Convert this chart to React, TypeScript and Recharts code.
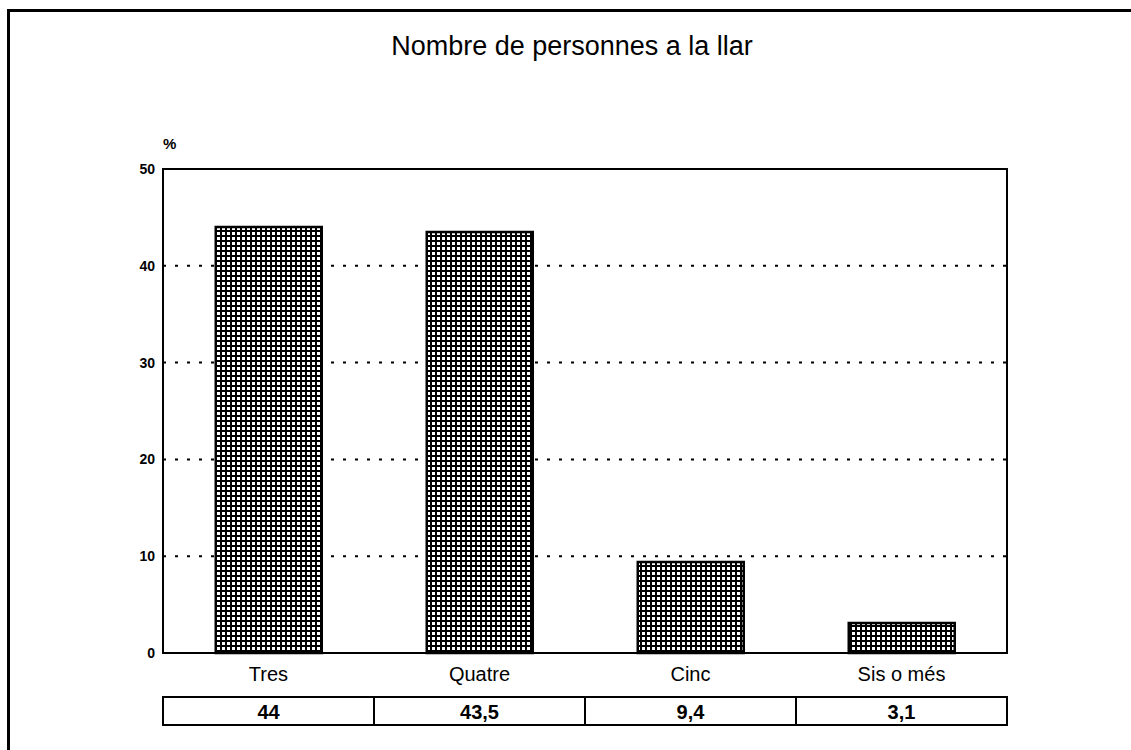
import { BarChart, Bar, XAxis, YAxis, CartesianGrid, ReferenceArea } from "recharts";

const categories = ["Tres", "Quatre", "Cinc", "Sis o més"];
const percents = [44, 43.5, 9.4, 3.1];
const valueLabels = ["44", "43,5", "9,4", "3,1"];
const yTicks = [0, 10, 20, 30, 40, 50];

const data = categories.map((c, i) => ({ name: c, value: percents[i] }));

const BAND = 211;
const FONT = "'Liberation Sans', Arial, Helvetica, sans-serif";

function CategoryTick(props: any) {
  const { x, y, payload, index } = props;
  const i = payload?.index ?? index;
  return (
    <g>
      <text x={x} y={y + 28} textAnchor="middle" fontSize={20} fontFamily={FONT} fill="#000">
        {payload.value}
      </text>
      <rect x={x - BAND / 2} y={y + 44} width={BAND} height={28} fill="#fff" stroke="#000" strokeWidth={2} />
      <text x={x} y={y + 66} textAnchor="middle" fontSize={20} fontWeight="bold" fontFamily={FONT} fill="#000">
        {valueLabels[i]}
      </text>
    </g>
  );
}

export default function App() {
  return (
    <div style={{ position: "absolute", left: 0, top: 0, width: 1131, height: 750, background: "#fff", fontFamily: FONT, overflow: "hidden" }}>
      {/* page frame: top and left edges only */}
      <div style={{ position: "absolute", left: 7, top: 9, width: 1124, height: 3, background: "#000" }} />
      <div style={{ position: "absolute", left: 7, top: 9, width: 3, height: 741, background: "#000" }} />
      <div style={{ position: "absolute", left: 0, width: 1144, top: 31, textAlign: "center", fontSize: 27, color: "#000" }}>
        Nombre de personnes a la llar
      </div>
      <div style={{ position: "absolute", left: 163, top: 135, fontSize: 15, fontWeight: "bold", color: "#000" }}>%</div>
      <div style={{ position: "absolute", left: 0, top: 0 }}>
        <BarChart
          width={1131}
          height={750}
          data={data}
          margin={{ top: 169, right: 124, bottom: 67, left: 123 }}
          barCategoryGap="25%"
        >
          <defs>
            <pattern id="hatch" width={5} height={5} patternUnits="userSpaceOnUse">
              <rect x={0} y={0} width={5} height={5} fill="#fff" />
              <rect x={0} y={0} width={5} height={2} fill="#000" />
              <rect x={0} y={0} width={2} height={5} fill="#000" />
            </pattern>
          </defs>
          <CartesianGrid vertical={false} stroke="#000" strokeWidth={2} strokeDasharray="3 9" />
          <ReferenceArea
            x1={categories[0]}
            x2={categories[categories.length - 1]}
            y1={0}
            y2={50}
            fill="none"
            fillOpacity={0}
            stroke="#000"
            strokeWidth={2}
            ifOverflow="visible"
          />
          <XAxis
            dataKey="name"
            height={30}
            axisLine={{ stroke: "#000", strokeWidth: 2 }}
            tickLine={false}
            tickSize={0}
            tickMargin={0}
            tick={<CategoryTick />}
            interval={0}
          />
          <YAxis
            domain={[0, 50]}
            ticks={yTicks}
            width={40}
            axisLine={{ stroke: "#000", strokeWidth: 2 }}
            tickLine={false}
            tickMargin={2}
            tick={{ fill: "#000", fontSize: 14, fontWeight: "bold", fontFamily: FONT }}
          />
          <Bar dataKey="value" fill="url(#hatch)" stroke="#000" strokeWidth={2.5} isAnimationActive={false} />
        </BarChart>
      </div>
    </div>
  );
}
